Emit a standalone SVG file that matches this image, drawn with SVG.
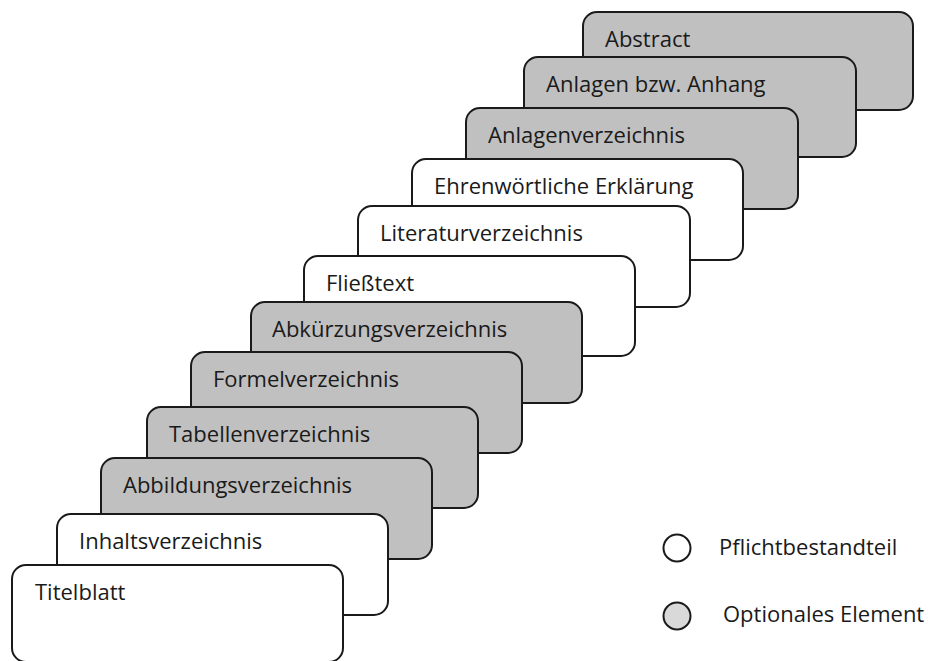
<svg xmlns="http://www.w3.org/2000/svg" width="928" height="661" viewBox="0 0 928 661">
<style>
.box{stroke:#1a1a1a;stroke-width:2}
.req{fill:#ffffff}
.opt{fill:#c0c0c0}
.lbl{font-family:"Open Sans","Liberation Sans",sans-serif;font-size:22px;fill:#1a1a1a}
.leg{stroke:#1a1a1a;stroke-width:2}
</style>
<rect width="928" height="661" fill="#ffffff"/>
<g id="abstract"><rect class="box opt" x="583" y="12" width="330" height="98" rx="14"/><text class="lbl" x="605" y="47">Abstract</text></g>
<g id="anlagen-anhang"><rect class="box opt" x="524" y="57" width="332" height="100" rx="14"/><text class="lbl" x="546" y="92">Anlagen bzw. Anhang</text></g>
<g id="anlagenverzeichnis"><rect class="box opt" x="466" y="108" width="332" height="101" rx="14"/><text class="lbl" x="488" y="143">Anlagenverzeichnis</text></g>
<g id="ehrenwoertliche-erklaerung"><rect class="box req" x="412" y="159" width="331" height="101" rx="14"/><text class="lbl" x="434" y="194">Ehrenwörtliche Erklärung</text></g>
<g id="literaturverzeichnis"><rect class="box req" x="358" y="206" width="332" height="101" rx="14"/><text class="lbl" x="380" y="241">Literaturverzeichnis</text></g>
<g id="fliesstext"><rect class="box req" x="304" y="256" width="331" height="100" rx="14"/><text class="lbl" x="326" y="291">Fließtext</text></g>
<g id="abkuerzungsverzeichnis"><rect class="box opt" x="251" y="302" width="331" height="101" rx="14"/><text class="lbl" x="272" y="337">Abkürzungsverzeichnis</text></g>
<g id="formelverzeichnis"><rect class="box opt" x="191" y="352" width="331" height="101" rx="14"/><text class="lbl" x="213" y="387">Formelverzeichnis</text></g>
<g id="tabellenverzeichnis"><rect class="box opt" x="147" y="407" width="331" height="101" rx="14"/><text class="lbl" x="169" y="442">Tabellenverzeichnis</text></g>
<g id="abbildungsverzeichnis"><rect class="box opt" x="101" y="458" width="331" height="101" rx="14"/><text class="lbl" x="123" y="493">Abbildungsverzeichnis</text></g>
<g id="inhaltsverzeichnis"><rect class="box req" x="57" y="514" width="331" height="101" rx="14"/><text class="lbl" x="79" y="549">Inhaltsverzeichnis</text></g>
<g id="titelblatt"><rect class="box req" x="12" y="565" width="331" height="97" rx="14"/><text class="lbl" x="35" y="600">Titelblatt</text></g>
<g id="legend-pflicht"><circle class="leg" cx="677" cy="548" r="13.5" fill="#ffffff"/><text class="lbl" x="719" y="555">Pflichtbestandteil</text></g>
<g id="legend-optional"><circle class="leg" cx="677" cy="616" r="13.5" fill="#d9d9d9"/><text class="lbl" x="723" y="622">Optionales Element</text></g>
<g id="connectors"/>
</svg>
